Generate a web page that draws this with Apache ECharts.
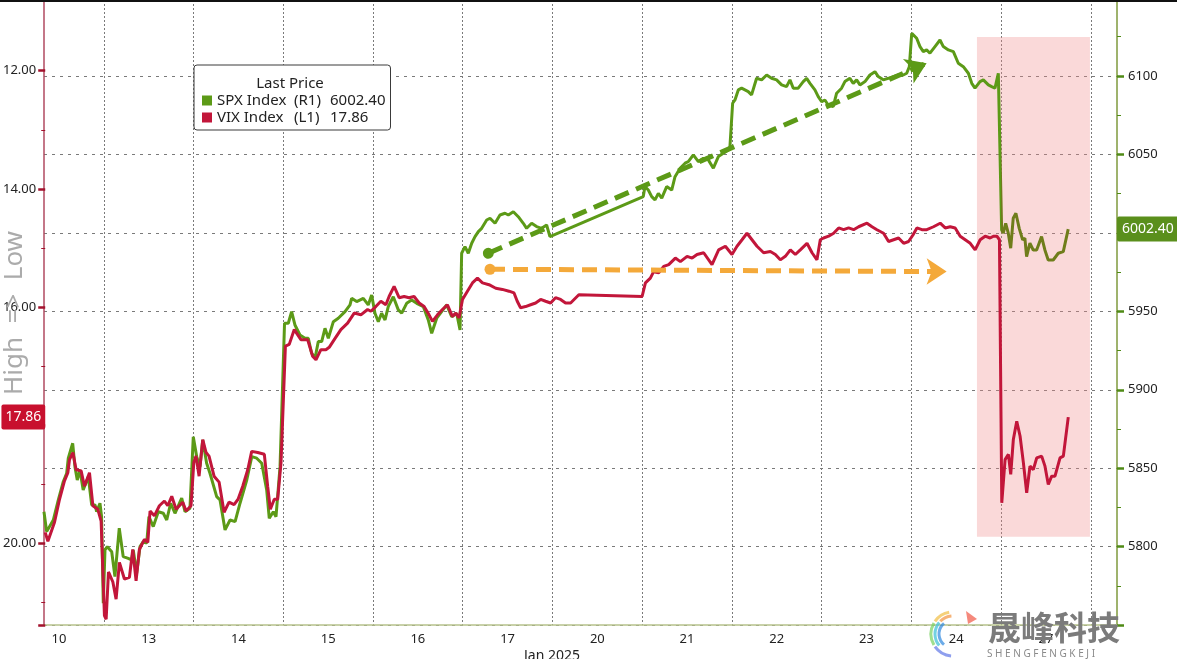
<!DOCTYPE html>
<html><head><meta charset="utf-8">
<script src="https://cdn.jsdelivr.net/npm/echarts@6/dist/echarts.min.js"></script>
<style>html,body{margin:0;padding:0;background:#fff}#c{width:1177px;height:659px}</style>
</head><body><div id="c"></div>
<script>
// ---- data (x in trading-day units: day k spans [k, k+1]) ----
const dayLabels = ['10','13','14','15','16','17','20','21','22','23','24','27'];

const spxTime = [
0.333,0.363,0.437,0.493,0.548,0.586,0.604,0.653,0.678,0.704,0.734,0.770,0.827,0.865,0.902,0.920,0.957,0.975,0.994,
1.013,1.039,1.088,1.124,1.172,1.216,1.272,1.310,1.328,1.366,1.403,1.440,1.478,1.503,1.551,1.607,1.663,1.701,1.745,1.793,1.868,1.905,1.960,1.997,
2.035,2.072,2.102,2.146,2.183,2.258,2.295,2.351,2.407,2.463,2.518,2.593,2.649,2.704,2.760,2.815,2.844,2.889,2.919,2.964,3.014,
3.056,3.093,3.130,3.186,3.242,3.279,3.316,3.354,3.390,3.428,3.465,3.502,3.558,3.613,3.688,3.744,3.762,3.818,3.892,3.947,3.985,
4.022,4.059,4.096,4.134,4.170,4.226,4.282,4.320,4.375,4.431,4.487,4.561,4.616,4.654,4.710,4.765,4.821,4.877,4.932,4.970,4.988,
5.025,5.062,5.100,5.137,5.174,5.211,5.267,5.304,5.360,5.415,5.471,5.508,5.564,5.619,5.675,5.712,5.768,5.823,5.879,5.935,5.972,
7.012,7.031,7.068,7.106,7.143,7.180,7.218,7.273,7.329,7.366,7.422,7.478,7.514,7.570,7.626,7.682,7.737,7.793,7.849,7.904,7.960,7.978,
8.008,8.034,8.071,8.108,8.145,8.182,8.219,8.275,8.331,8.387,8.442,8.498,8.554,8.609,8.647,8.684,8.739,8.795,8.833,8.870,8.925,8.962,9.000,9.036,9.073,
9.129,9.167,9.222,9.259,9.315,9.352,9.390,9.427,9.483,9.538,9.594,9.631,9.687,9.743,9.798,9.854,9.910,9.948,9.977,10.004,
10.021,10.059,10.096,10.133,10.170,10.207,10.263,10.319,10.356,10.412,10.468,10.523,10.579,10.635,10.673,10.709,10.765,10.802,10.858,10.895,10.932,10.969,
11.006,11.024,11.051,11.080,11.107,11.135,11.165,11.202,11.240,11.265,11.284,11.321,11.358,11.396,11.451,11.488,11.525,11.581,11.637,11.693,11.748
];
const spxValue = [
5822.3,5809.6,5817.0,5829.8,5841.4,5846.8,5856.4,5865.9,5851.0,5842.5,5848.9,5836.2,5844.6,5826.6,5826.6,5822.3,5827.7,5819.1,5764.0,
5797.9,5800.0,5796.8,5780.9,5811.8,5793.7,5792.6,5791.5,5797.9,5783.1,5800.0,5803.2,5802.2,5819.1,5812.8,5822.3,5821.3,5817.0,5827.7,5821.3,5830.9,5822.3,5824.5,5870.1,
5857.4,5851.0,5868.0,5853.2,5846.8,5831.9,5829.8,5810.7,5817.0,5816.0,5827.7,5842.5,5857.4,5856.4,5853.2,5836.2,5818.1,5822.3,5819.1,5851.0,5942.4,
5942.4,5949.8,5941.3,5934.9,5932.8,5932.8,5923.3,5920.1,5930.7,5930.7,5939.2,5932.8,5943.4,5945.6,5949.8,5954.1,5958.3,5956.2,5958.3,5954.1,5960.4,
5948.8,5943.4,5948.8,5944.5,5953.0,5959.3,5950.9,5948.8,5955.1,5957.2,5955.1,5953.0,5944.5,5936.0,5945.6,5949.8,5954.1,5946.6,5948.8,5938.1,5987.0,
5991.2,5987.0,5993.4,5997.6,6000.8,6002.9,6008.2,6009.3,6006.1,6011.4,6012.5,6011.4,6013.5,6010.3,6006.1,6002.9,6006.1,6004.0,6002.9,6005.0,5997.6,
6023.1,6029.5,6027.3,6023.1,6021.0,6025.2,6022.1,6029.5,6027.3,6035.8,6041.2,6044.4,6045.4,6049.7,6045.4,6047.5,6046.5,6041.2,6048.6,6050.7,6052.8,6054.9,
6082.6,6084.7,6091.1,6092.2,6091.1,6090.0,6087.9,6098.5,6097.5,6100.6,6098.5,6097.5,6094.3,6093.2,6097.5,6092.2,6092.2,6096.4,6098.5,6095.3,6091.1,6086.8,6083.6,6084.7,6081.5,
6080.4,6089.0,6092.2,6096.4,6098.5,6095.3,6097.5,6094.3,6096.4,6100.6,6102.7,6099.6,6097.5,6098.5,6099.6,6100.6,6100.6,6101.7,6105.9,6127.2,
6127.2,6124.0,6118.7,6115.5,6116.6,6114.5,6118.7,6122.9,6118.7,6116.6,6115.5,6108.1,6105.9,6101.7,6095.3,6092.2,6096.4,6097.5,6094.3,6093.2,6092.2,6101.7,
6001.9,5999.8,6006.1,5999.8,5990.2,6009.3,6012.5,6002.9,5995.5,5996.6,5984.8,5993.4,5989.1,5989.1,5997.6,5989.1,5982.7,5982.7,5987.0,5988.0,6002.4
];

const vixTime = [
0.333,0.363,0.437,0.493,0.548,0.586,0.604,0.642,0.678,0.734,0.771,0.827,0.865,0.920,0.957,0.994,
1.013,1.039,1.088,1.124,1.161,1.217,1.273,1.310,1.347,1.384,1.440,1.478,1.503,1.551,1.607,1.663,1.701,1.745,1.793,1.868,1.905,1.960,1.991,
2.016,2.050,2.091,2.128,2.161,2.217,2.273,2.329,2.384,2.440,2.485,2.537,2.593,2.637,2.704,2.778,2.815,2.845,2.889,2.927,2.964,3.013,
3.056,3.112,3.186,3.261,3.317,3.354,3.409,3.465,3.502,3.558,3.632,3.707,3.781,3.855,3.930,3.967,
4.022,4.078,4.134,4.170,4.226,4.282,4.338,4.393,4.449,4.505,4.561,4.616,4.654,4.710,4.765,4.821,4.877,4.914,4.951,4.989,
5.044,5.100,5.156,5.212,5.285,5.360,5.434,5.508,5.564,5.600,5.637,5.693,5.749,5.805,5.861,5.916,5.972,
6.027,6.083,6.139,6.195,6.287,
6.993,
7.030,7.085,7.122,7.178,7.234,7.290,7.364,7.420,7.495,7.551,7.606,7.680,7.773,7.847,7.922,7.996,
8.052,8.108,8.163,8.219,8.275,8.349,8.424,8.480,8.535,8.591,8.647,8.703,8.758,8.833,8.889,8.944,8.981,
9.018,9.074,9.130,9.186,9.241,9.297,9.353,9.409,9.502,9.558,9.613,9.687,9.743,9.799,9.855,9.911,9.966,10.015,
10.059,10.115,10.170,10.244,10.319,10.375,10.431,10.486,10.542,10.598,10.654,10.709,10.765,10.821,10.876,10.913,10.951,10.980,
11.006,11.043,11.080,11.106,11.135,11.173,11.210,11.247,11.284,11.321,11.358,11.396,11.451,11.488,11.525,11.563,11.600,11.656,11.693,11.748
];
const vixValue = [
19.81,19.96,19.64,19.25,18.94,18.80,18.58,18.46,18.75,18.77,19.03,18.80,19.36,19.42,19.62,21.22,
21.28,20.48,20.65,20.94,20.32,20.60,20.57,20.10,20.63,20.10,19.93,19.98,19.45,19.53,19.36,19.28,19.36,19.20,19.42,19.30,19.45,19.36,18.63,
18.52,18.86,18.24,18.46,18.52,18.86,18.96,19.47,19.30,19.34,19.25,19.03,18.75,18.44,18.46,18.49,19.03,19.42,19.25,19.25,18.63,16.66,
16.63,16.38,16.55,16.55,16.83,16.89,16.72,16.72,16.68,16.55,16.38,16.27,16.10,16.13,16.04,16.07,
15.99,15.90,15.96,15.82,15.65,15.84,15.82,15.84,15.82,15.93,15.99,16.13,16.24,16.13,16.04,15.96,16.16,16.10,16.18,15.87,
15.73,15.59,15.51,15.59,15.62,15.68,15.70,15.73,15.76,15.90,16.01,15.99,15.96,15.93,15.87,15.90,15.93,
15.84,15.87,15.93,15.93,15.79,
15.82,
15.59,15.51,15.40,15.42,15.31,15.28,15.17,15.23,15.14,15.17,15.11,15.08,15.28,15.03,14.97,15.11,
14.97,14.86,14.75,14.86,14.97,15.08,15.06,15.11,15.20,15.14,15.03,15.11,15.03,14.92,15.08,15.20,14.86,
14.83,14.80,14.75,14.66,14.69,14.66,14.69,14.64,14.58,14.64,14.69,14.75,14.89,14.86,14.83,14.92,14.89,14.78,
14.66,14.69,14.69,14.64,14.58,14.66,14.64,14.66,14.80,14.86,14.92,15.03,14.86,14.80,14.83,14.80,14.80,14.86,
19.31,18.58,18.49,18.83,18.24,17.93,18.18,18.63,19.14,18.69,18.75,18.55,18.52,18.69,19.00,18.86,18.86,18.55,18.52,17.86
];

// annotations (data coordinates: [day, SPX])
const trendStart = [5.285, 5987.0], trendEnd = [10.170, 6108.1];
const flatStart  = [5.304, 5976.8], flatEnd  = [10.393, 5975.3];
const shadeFrom  = [10.731, 6124.9], shadeTo = [11.990, 5806.4];
const oliveFrom  = 10.97;   // SPX line colour changes when the last session opens

// axis ranges / ticks
const spxMin = 5750, spxMax = 6148.4, spxStep = 50;
const vixMin = 12, vixMax = 21.38, vixStep = 2;
const SLOTS = 24, FIRST_SLOT = 8, LAST_SLOT = 295;

const spxLast = spxValue[spxValue.length - 1];
const vixLast = vixValue[vixValue.length - 1];

// ---- chart ----
const FONT = 'Noto Sans';
const GREEN = '#5c9a17', OLIVE = '#6f7d1b', RED = '#c2163a', ORANGE = '#f4a93a';
const CLEAR = 'rgba(0,0,0,0)';
const slotCats = [];
for (let s = FIRST_SLOT; s <= LAST_SLOT; s++) slotCats.push(String(s));
const zip = (t, v) => t.map((x, i) => [x, v[i]]);
const f = (oliveFrom - spxTime[0]) / (spxTime[spxTime.length - 1] - spxTime[0]);
const spxColor = new echarts.graphic.LinearGradient(0, 0, 1, 0, [
  {offset: 0, color: GREEN}, {offset: f, color: GREEN}, {offset: f, color: OLIVE}, {offset: 1, color: OLIVE}]);

const arc = (r, a0, a1, color, w) => ({type: 'arc', z: 100,
  shape: {cx: 953, cy: 634, r: r, startAngle: a0 * Math.PI / 180, endAngle: a1 * Math.PI / 180},
  style: {stroke: color, lineWidth: w, fill: 'none', opacity: 0.75}});

const badge = (value, pos, bg, pad) => [
  {coord: [FIRST_SLOT / SLOTS, value], symbol: 'none', lineStyle: {color: CLEAR, width: 0},
   label: {show: true, position: pos, formatter: value.toFixed(2), color: '#fff',
           backgroundColor: bg, padding: pad, fontSize: 14, distance: 0, borderRadius: 2}},
  {coord: [LAST_SLOT / SLOTS, value], symbol: 'none'}];

const chart = echarts.init(document.getElementById('c'));
chart.setOption({
  animation: false,
  textStyle: {fontFamily: FONT},
  grid: [
    {left: 44, right: 60, top: 0, bottom: 33.85},
    {left: 44, right: 60, top: 70.7, bottom: 33.85}
  ],
  xAxis: [
    {type: 'category', gridIndex: 0, data: slotCats, boundaryGap: false,
     axisLine: {show: true, lineStyle: {color: '#b7c28c', width: 1.5}},
     axisTick: {show: false},
     axisLabel: {interval: (i) => (i + FIRST_SLOT) % SLOTS === SLOTS / 2,
                 formatter: (v, i) => dayLabels[Math.floor((i + FIRST_SLOT) / SLOTS)],
                 color: '#222', fontSize: 13, margin: 8},
     splitLine: {show: true, interval: (i) => (i + FIRST_SLOT) % SLOTS === 0,
                 lineStyle: {color: '#7a7a7a', type: [2, 2], width: 1}}},
    {type: 'value', gridIndex: 0, min: FIRST_SLOT / SLOTS, max: LAST_SLOT / SLOTS, show: false, splitLine: {show: false}},
    {type: 'value', gridIndex: 1, min: FIRST_SLOT / SLOTS, max: LAST_SLOT / SLOTS, show: false, splitLine: {show: false}}
  ],
  yAxis: [
    {type: 'value', gridIndex: 0, position: 'right', min: spxMin, max: spxMax, interval: spxStep,
     axisLine: {show: true, lineStyle: {color: '#7f9a3c', width: 1.5}},
     axisTick: {show: true, length: 7, lineStyle: {color: '#4f8a16', width: 2.5}},
     minorTick: {show: true, splitNumber: 2, length: 4, lineStyle: {color: '#4f8a16', width: 1}},
     axisLabel: {color: '#222', fontSize: 13, margin: 11,
                 formatter: (v) => (v === spxMin || v % spxStep !== 0) ? '' : String(v)},
     splitLine: {show: true, lineStyle: {color: '#7a7a7a', type: [3, 5], width: 1}}},
    {type: 'value', gridIndex: 0, position: 'left', min: 0, max: 1,
     axisLine: {show: true, lineStyle: {color: '#b04a60', width: 1.5}},
     axisTick: {show: false}, axisLabel: {show: false}, splitLine: {show: false}},
    {type: 'value', gridIndex: 1, position: 'left', inverse: true, min: vixMin, max: vixMax, interval: vixStep,
     axisLine: {show: false},
     axisTick: {show: true, length: 7, lineStyle: {color: '#a3122d', width: 2.5}},
     minorTick: {show: true, splitNumber: 2, length: 4, lineStyle: {color: '#a3122d', width: 1}},
     axisLabel: {color: '#222', fontSize: 13, margin: 9,
                 formatter: (v) => (v % vixStep !== 0) ? '' : v.toFixed(2)},
     splitLine: {show: false}}
  ],
  legend: {left: 194, top: 65, orient: 'vertical', padding: [28, 5, 5, 8], itemGap: 2,
           itemWidth: 10, itemHeight: 10, icon: 'rect', selectedMode: false,
           backgroundColor: '#fff', borderColor: '#3a3a3a', borderWidth: 1, borderRadius: 3,
           data: [{name: 'SPX Index', itemStyle: {color: GREEN}}, {name: 'VIX Index', itemStyle: {color: RED}}],
           formatter: (n) => n === 'SPX Index'
             ? '{a|SPX Index}{b|(R1)}{c|' + spxLast.toFixed(2) + '}'
             : '{a|VIX Index}{b|(L1)}{c|' + vixLast.toFixed(2) + '}',
           textStyle: {fontSize: 15, color: '#222',
                       rich: {a: {width: 77, fontSize: 15, color: '#222'}, b: {width: 36, fontSize: 15, color: '#222'}, c: {fontSize: 15, color: '#222'}}}},
  graphic: [
    {type: 'rect', shape: {x: 0, y: 0, width: 1177, height: 2}, style: {fill: '#111'}, z: 100},
    {type: 'text', x: 290, y: 84, z: 100,
     style: {text: 'Last Price', fill: '#222', font: '15px "Noto Sans"', textAlign: 'center', textVerticalAlign: 'middle'}},
    {type: 'text', x: 15, y: 313, rotation: Math.PI / 2, z: 1,
     style: {text: 'High  =>  Low', fill: '#ababab', font: '26px "Noto Sans"', textAlign: 'center', textVerticalAlign: 'middle'}},
    {type: 'text', x: 552, y: 656, z: 100,
     style: {text: 'Jan 2025', fill: '#222', font: '14px "Noto Sans"', textAlign: 'center', textVerticalAlign: 'middle'}},
    arc(22, 150, 210, '#7fd36a', 3), arc(18, 140, 220, '#44c1d8', 3), arc(14, 130, 230, '#3b8fe0', 3),
    arc(22, 215, 260, '#f2c14e', 3), arc(18, 225, 265, '#f39a4a', 3), arc(22, 95, 145, '#6a7fe8', 3),
    {type: 'polygon', z: 100, shape: {points: [[966, 611], [977, 619], [968, 624]]}, style: {fill: '#f26b5b', opacity: 0.8}},
    {type: 'text', x: 988, y: 627, z: 100,
     style: {text: '晟峰科技', fill: '#7b7b7b', font: 'bold 33px "Noto Sans CJK SC"', textVerticalAlign: 'middle'}},
    {type: 'text', x: 987, y: 654, z: 100,
     style: {text: 'S H E N G F E N G K E J I', fill: '#8a8a8a', font: '10px "Noto Sans"', textVerticalAlign: 'middle'}}
  ],
  series: [
    {name: 'SPX Index', type: 'line', xAxisIndex: 1, yAxisIndex: 0, data: zip(spxTime, spxValue),
     symbol: 'none', showSymbol: false, lineStyle: {width: 3, color: spxColor}, itemStyle: {color: GREEN}, z: 3,
     markArea: {silent: true, itemStyle: {color: 'rgba(240,140,140,0.33)'},
                data: [[{coord: shadeFrom}, {coord: shadeTo}]]},
     markLine: {silent: true, symbol: 'none', label: {show: false},
                data: [
                  [{coord: trendStart, symbol: 'circle', symbolSize: 11, lineStyle: {color: GREEN, width: 5, type: [15, 8]}},
                   {coord: trendEnd, symbol: 'arrow', symbolSize: 20}],
                  [{coord: flatStart, symbol: 'circle', symbolSize: 11, lineStyle: {color: ORANGE, width: 5, type: [15, 8]}},
                   {coord: flatEnd, symbol: 'arrow', symbolSize: 20}],
                  badge(spxLast, 'end', '#5a8f1c', [6, 5, 5, 5])
                ]}},
    {name: 'VIX Index', type: 'line', xAxisIndex: 2, yAxisIndex: 2, data: zip(vixTime, vixValue),
     symbol: 'none', showSymbol: false, lineStyle: {width: 3, color: RED}, itemStyle: {color: RED}, z: 4,
     markLine: {silent: true, symbol: 'none', label: {show: false},
                data: [badge(vixLast, 'start', '#c8102e', [6, 4, 5, 4])]}}
  ]
});
</script></body></html>
